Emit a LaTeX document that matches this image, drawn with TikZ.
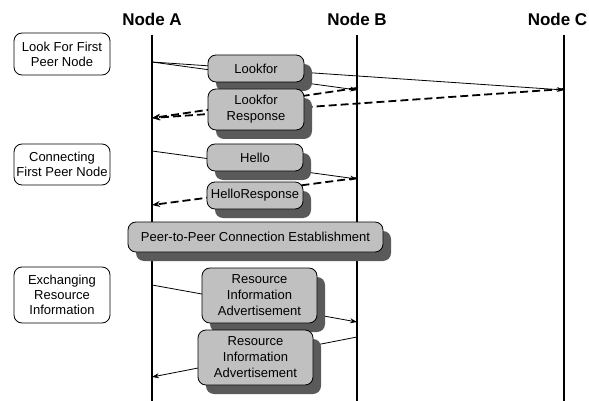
\documentclass[tikz,border=0pt]{standalone}
\usepackage{fontspec}
\setmainfont{Liberation Sans}
\usetikzlibrary{arrows.meta,shadows}

\definecolor{boxgray}{HTML}{C0C0C0}
\definecolor{shadowgray}{HTML}{5A5A5A}

\tikzset{
  title/.style={font=\fontsize{17}{20}\selectfont\bfseries, inner sep=0pt},
  lifeline/.style={line width=1.8pt},
  msg/.style={line width=0.8pt, -{Stealth[length=7pt,width=5pt]}},
  reply/.style={line width=1.8pt, dash pattern=on 8pt off 4pt, -{Stealth[length=8pt,width=6pt]}},
  phase/.style={draw, line width=0.8pt, fill=white, rounded corners=8pt,
    minimum width=96pt, inner sep=0pt, align=center,
    font=\fontsize{13}{15}\selectfont},
  msgbox/.style={draw, line width=0.8pt, fill=boxgray, rounded corners=8pt,
    inner sep=0pt, align=center, font=\fontsize{13}{16}\selectfont,
    general shadow={shadow xshift=8pt, shadow yshift=-9pt, fill=shadowgray, draw=none}},
}

\begin{document}
\begin{tikzpicture}[x=1pt,y=-1pt]
  \useasboundingbox[fill=white] (0,0) rectangle (589,401);

  % participants
  \node[title] (ttlA) at (152,19) {Node A};
  \node[title] (ttlB) at (357,19) {Node B};
  \node[title] (ttlC) at (557.5,19) {Node C};

  \coordinate (Atop) at (152,35);  \coordinate (Abot) at (152,401);
  \coordinate (Btop) at (357,35);  \coordinate (Bbot) at (357,401);
  \coordinate (Ctop) at (564,35);  \coordinate (Cbot) at (564,401);
  \draw[lifeline] (Atop) -- (Abot);
  \draw[lifeline] (Btop) -- (Bbot);
  \draw[lifeline] (Ctop) -- (Cbot);

  % message end points on the lifelines
  \coordinate (a1) at (152,62);
  \coordinate (b1) at (357,90);
  \coordinate (c1) at (564,90);
  \coordinate (b2) at (357,88);
  \coordinate (c2) at (564,89);
  \coordinate (a2) at (152,118);
  \coordinate (a3) at (152,151);
  \coordinate (b3) at (357,179);
  \coordinate (b4) at (357,178);
  \coordinate (a4) at (152,205);
  \coordinate (a5) at (152,285);
  \coordinate (b5) at (357,322);
  \coordinate (b6) at (357,337);
  \coordinate (a6) at (152,377);

  % messages
  \draw[msg] (a1) -- (b1);
  \draw[msg] (a1) -- (c1);
  \draw[reply] (b2) -- (a2);
  \draw[reply] (c2) -- (a2);
  \draw[msg] (a3) -- (b3);
  \draw[reply] (b4) -- (a4);
  \draw[msg] (a5) -- (b5);
  \draw[msg] (b6) -- (a6);

  % phase labels
  \node[phase, minimum height=42pt] (ph1) at (62,54) {Look For First\\Peer Node};
  \node[phase, minimum height=41pt] (ph2) at (62,164.5) {Connecting\\First Peer Node};
  \node[phase, minimum height=56pt] (ph3) at (62,295) {Exchanging\\Resource\\Information};

  % message labels
  \node[msgbox, minimum width=96pt, minimum height=27pt] (lk) at (256,68.5) {Lookfor};
  \node[msgbox, minimum width=96pt, minimum height=41pt] (lkr) at (256,109.5) {Lookfor\\Response};
  \node[msgbox, minimum width=96pt, minimum height=27pt] (hi) at (255,157.5) {Hello};
  \node[msgbox, minimum width=96pt, minimum height=27pt] (hir) at (255,195.5) {HelloResponse};
  \node[msgbox, minimum width=255pt, minimum height=30pt] (p2p) at (255.5,237) {Peer-to-Peer Connection Establishment};
  \node[msgbox, minimum width=115pt, minimum height=55pt] (ria1) at (259.5,295.5) {Resource\\Information\\Advertisement};
  \node[msgbox, minimum width=115pt, minimum height=55pt] (ria2) at (255.5,357.5) {Resource\\Information\\Advertisement};
\end{tikzpicture}
\end{document}
